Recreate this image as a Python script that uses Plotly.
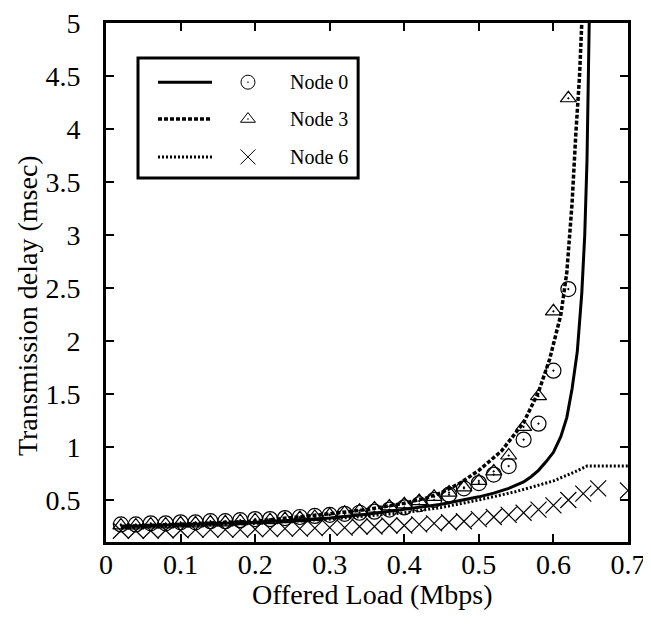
import plotly.graph_objects as go

# ---- data ----
node0_line_x = [0.02, 0.1, 0.2, 0.25, 0.3, 0.35, 0.4, 0.45, 0.5, 0.52, 0.54, 0.56, 0.57, 0.58, 0.59, 0.6, 0.61,
                0.618, 0.625, 0.632, 0.638, 0.642, 0.645, 0.647, 0.648]
node0_line_y = [0.25, 0.265, 0.29, 0.31, 0.33, 0.365, 0.41, 0.46, 0.53, 0.565, 0.61, 0.67, 0.72, 0.78, 0.86, 0.95, 1.1,
                1.28, 1.55, 1.9, 2.45, 3.0, 3.7, 4.4, 5.0]

node3_line_x = [0.02, 0.1, 0.2, 0.3, 0.35, 0.4, 0.43, 0.45, 0.475, 0.5, 0.53, 0.56, 0.58, 0.595, 0.61, 0.618,
                0.625, 0.63, 0.635, 0.638]
node3_line_y = [0.25, 0.27, 0.30, 0.37, 0.41, 0.47, 0.52, 0.57, 0.66, 0.78, 0.96, 1.23, 1.52, 1.83, 2.25, 2.65,
                3.3, 3.95, 4.5, 5.0]

node6_line_x = [0.02, 0.1, 0.2, 0.3, 0.4, 0.45, 0.5, 0.55, 0.6, 0.63, 0.645, 0.7]
node6_line_y = [0.24, 0.255, 0.28, 0.32, 0.38, 0.43, 0.50, 0.58, 0.68, 0.77, 0.82, 0.82]

sim_x = [0.02, 0.04, 0.06, 0.08, 0.10, 0.12, 0.14, 0.16, 0.18, 0.20, 0.22, 0.24, 0.26, 0.28, 0.30,
         0.32, 0.34, 0.36, 0.38, 0.40, 0.42, 0.44, 0.46, 0.48, 0.50, 0.52, 0.54, 0.56, 0.58, 0.60, 0.62]
node0_sim_y = [0.27, 0.27, 0.28, 0.28, 0.29, 0.29, 0.30, 0.30, 0.31, 0.32, 0.32, 0.33, 0.34, 0.35, 0.36,
               0.37, 0.38, 0.39, 0.41, 0.43, 0.46, 0.50, 0.55, 0.61, 0.66, 0.74, 0.82, 1.07, 1.22, 1.72, 2.49]
node3_sim_y = [0.26, 0.26, 0.27, 0.27, 0.28, 0.28, 0.29, 0.29, 0.30, 0.31, 0.31, 0.32, 0.33, 0.34, 0.36,
               0.38, 0.40, 0.42, 0.44, 0.46, 0.49, 0.53, 0.57, 0.62, 0.68, 0.77, 0.92, 1.19, 1.48, 2.28, 4.29]

node6_sim_x = [0.02, 0.04, 0.06, 0.08, 0.10, 0.12, 0.14, 0.16, 0.18, 0.20, 0.22, 0.24, 0.26, 0.28, 0.30,
               0.32, 0.34, 0.36, 0.38, 0.40, 0.42, 0.44, 0.46, 0.48, 0.50, 0.52, 0.54, 0.56, 0.58, 0.60,
               0.62, 0.64, 0.66, 0.70]
node6_sim_y = [0.21, 0.21, 0.21, 0.215, 0.215, 0.22, 0.22, 0.22, 0.22, 0.225, 0.225, 0.23, 0.23, 0.235, 0.24,
               0.24, 0.25, 0.25, 0.26, 0.26, 0.27, 0.28, 0.29, 0.30, 0.32, 0.34, 0.36, 0.38, 0.41, 0.45,
               0.50, 0.56, 0.61, 0.59]

x_ticks = [0, 0.1, 0.2, 0.3, 0.4, 0.5, 0.6, 0.7]
x_tick_labels = ["0", "0.1", "0.2", "0.3", "0.4", "0.5", "0.6", "0.7"]
y_ticks = [0.5, 1, 1.5, 2, 2.5, 3, 3.5, 4, 4.5, 5]
y_tick_labels = ["0.5", "1", "1.5", "2", "2.5", "3", "3.5", "4", "4.5", "5"]

legend_names = ["Node 0", "Node 3", "Node 6"]
x_title = "Offered Load (Mbps)"
y_title = "Transmission delay (msec)"

FONT = "Liberation Serif"
BLACK = "#000000"
dash0, dash3, dash6 = "solid", "4px,2px", "2px,2px"
w0, w3, w6 = 3, 3.5, 3

fig = go.Figure()

fig.add_trace(go.Scatter(x=node6_line_x, y=node6_line_y, mode="lines",
                         line=dict(color=BLACK, width=w6, dash=dash6), showlegend=False))
fig.add_trace(go.Scatter(x=node3_line_x, y=node3_line_y, mode="lines",
                         line=dict(color=BLACK, width=w3, dash=dash3), showlegend=False))
fig.add_trace(go.Scatter(x=node0_line_x, y=node0_line_y, mode="lines",
                         line=dict(color=BLACK, width=w0, dash=dash0), showlegend=False))

fig.add_trace(go.Scatter(x=sim_x, y=node0_sim_y, mode="markers",
                         marker=dict(symbol="circle-dot", size=15, color="rgba(0,0,0,0)",
                                     line=dict(color=BLACK, width=1.2)), showlegend=False))
fig.add_trace(go.Scatter(x=sim_x, y=node3_sim_y, mode="markers",
                         marker=dict(symbol="triangle-up-dot", size=14, color="rgba(0,0,0,0)",
                                     line=dict(color=BLACK, width=1.2)), showlegend=False))
fig.add_trace(go.Scatter(x=node6_sim_x, y=node6_sim_y, mode="markers",
                         marker=dict(symbol="x-thin", size=16, color=BLACK,
                                     line=dict(color=BLACK, width=1.2)), showlegend=False))

# ---- legend drawn on an overlay axis (fractions of the plot area) ----
leg_rows = [0.886, 0.815, 0.742]
leg_line_x = [0.0996, 0.203]
leg_marker_x = 0.272
leg_text_x = 0.349
styles = [(dash0, w0), (dash3, w3), (dash6, w6)]
symbols = [("circle-dot", 14, 1.0), ("triangle-up-dot", 13, 1.0), ("x-thin", 15, 1.0)]
for row, (dsh, wd), (sym, sz, lw), name in zip(leg_rows, styles, symbols, legend_names):
    fig.add_trace(go.Scatter(x=leg_line_x, y=[row, row], mode="lines", xaxis="x2", yaxis="y2",
                             line=dict(color=BLACK, width=wd, dash=dsh), showlegend=False))
    fig.add_trace(go.Scatter(x=[leg_marker_x], y=[row], mode="markers", xaxis="x2", yaxis="y2",
                             marker=dict(symbol=sym, size=sz, color="rgba(0,0,0,0)" if sym != "x-thin" else BLACK,
                                         line=dict(color=BLACK, width=lw)), showlegend=False))
    fig.add_annotation(x=leg_text_x, y=row, xref="x2", yref="y2", text=name, showarrow=False,
                       xanchor="left", yanchor="middle", font=dict(family=FONT, size=20, color=BLACK))

fig.add_shape(type="rect", xref="x2", yref="y2", x0=0.0613, x1=0.483, y0=0.7013, y1=0.9326,
              line=dict(color=BLACK, width=3), fillcolor="rgba(0,0,0,0)")

# axis titles
fig.add_annotation(x=0.5096, y=-0.102, xref="paper", yref="paper", text=x_title, showarrow=False,
                   xanchor="center", yanchor="middle", font=dict(family=FONT, size=28, color=BLACK))
fig.add_annotation(x=-0.149, y=0.455, xref="paper", yref="paper", text=y_title, showarrow=False,
                   textangle=-90, xanchor="center", yanchor="middle", font=dict(family=FONT, size=28, color=BLACK))

axis_common = dict(showline=True, linecolor=BLACK, linewidth=3, mirror="allticks",
                   ticks="inside", ticklen=8, tickwidth=2, tickcolor=BLACK,
                   showgrid=False, zeroline=False, automargin=False,
                   ticklabeloverflow="allow",
                   tickfont=dict(family=FONT, size=28, color=BLACK))

# page body adds an 8px offset, so the figure margins compensate for it
fig.update_layout(
    width=651, height=624,
    margin=dict(l=98, r=31, t=15, b=90),
    paper_bgcolor="white", plot_bgcolor="white",
    showlegend=False,
    xaxis=dict(range=[0, 0.7], tickvals=x_ticks, ticktext=x_tick_labels,
               ticklabelstandoff=-5, **axis_common),
    yaxis=dict(range=[0.104, 5], tickvals=y_ticks, ticktext=y_tick_labels,
               ticklabelstandoff=17, **axis_common),
    xaxis2=dict(range=[0, 1], overlaying="x", visible=False, fixedrange=True),
    yaxis2=dict(range=[0, 1], overlaying="y", visible=False, fixedrange=True),
)

fig.write_html("out.html")
